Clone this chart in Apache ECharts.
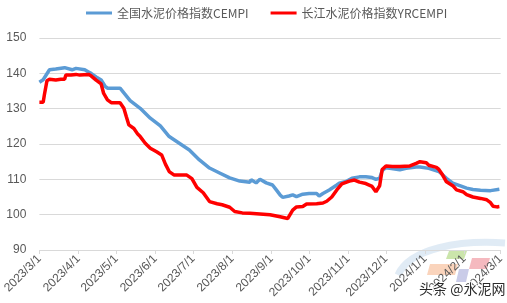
<!DOCTYPE html>
<html>
<head>
<meta charset="utf-8">
<script src="https://cdn.jsdelivr.net/npm/echarts@6/dist/echarts.min.js"></script>
<style>
html,body{margin:0;padding:0;background:#fff;}
#chart{width:507px;height:303px;}
</style>
</head>
<body>
<div id="chart"></div>
<script>
// ---- data ----
const seriesNames = ['全国水泥价格指数CEMPI', '长江水泥价格指数YRCEMPI'];
const tickMonths = ['2023-03-01','2023-04-01','2023-05-01','2023-06-01','2023-07-01','2023-08-01','2023-09-01','2023-10-01','2023-11-01','2023-12-01','2024-01-01','2024-02-01','2024-03-01'];
const yTicks = [90, 100, 110, 120, 130, 140, 150];

const cempiDates = ['2023-03-01','2023-03-04','2023-03-09','2023-03-14','2023-03-21','2023-03-27','2023-03-30','2023-04-06','2023-04-09','2023-04-11','2023-04-15','2023-04-19','2023-04-22','2023-04-24','2023-05-04','2023-05-05','2023-05-12','2023-05-20','2023-05-28','2023-06-05','2023-06-12','2023-06-20','2023-06-28','2023-07-06','2023-07-14','2023-07-22','2023-07-30','2023-08-07','2023-08-15','2023-08-16','2023-08-20','2023-08-23','2023-08-28','2023-09-02','2023-09-05','2023-09-08','2023-09-10','2023-09-15','2023-09-18','2023-09-21','2023-09-26','2023-10-01','2023-10-07','2023-10-09','2023-10-12','2023-10-17','2023-10-23','2023-10-25','2023-10-31','2023-11-04','2023-11-10','2023-11-15','2023-11-20','2023-11-23','2023-11-26','2023-11-28','2023-12-01','2023-12-04','2023-12-12','2023-12-17','2023-12-25','2023-12-28','2024-01-04','2024-01-12','2024-01-18','2024-01-23','2024-01-28','2024-02-03','2024-02-08','2024-02-14','2024-02-22','2024-02-29'];
const cempiValues = [137.5,138.2,141.0,141.2,141.6,141.0,141.4,141.0,140.4,140.0,139.0,138.1,136.4,135.8,135.8,135.6,132.3,130.1,127.3,125.1,122.1,120.2,118.3,115.5,113.2,111.8,110.4,109.5,109.2,109.9,109.0,110.0,109.0,108.4,107.0,105.6,104.9,105.3,105.6,105.1,105.8,106.0,106.0,105.3,106.0,107.0,108.4,108.9,109.5,110.3,110.7,110.7,110.5,110.0,110.3,112.5,113.3,113.1,112.7,113.1,113.5,113.5,113.1,112.2,110.3,108.9,108.3,107.5,107.1,106.9,106.8,107.2];

const yrcDates = ['2023-03-01','2023-03-04','2023-03-05','2023-03-07','2023-03-09','2023-03-14','2023-03-18','2023-03-21','2023-03-22','2023-03-26','2023-03-30','2023-04-02','2023-04-09','2023-04-11','2023-04-15','2023-04-19','2023-04-21','2023-04-24','2023-04-27','2023-05-04','2023-05-07','2023-05-09','2023-05-11','2023-05-15','2023-05-18','2023-05-20','2023-05-24','2023-05-28','2023-06-02','2023-06-06','2023-06-09','2023-06-12','2023-06-16','2023-06-26','2023-06-30','2023-07-04','2023-07-09','2023-07-14','2023-07-20','2023-07-24','2023-07-30','2023-08-03','2023-08-09','2023-08-15','2023-08-23','2023-08-31','2023-09-08','2023-09-14','2023-09-18','2023-09-21','2023-09-26','2023-09-29','2023-10-07','2023-10-12','2023-10-15','2023-10-19','2023-10-23','2023-10-27','2023-11-02','2023-11-06','2023-11-10','2023-11-15','2023-11-20','2023-11-23','2023-11-26','2023-11-28','2023-12-01','2023-12-06','2023-12-12','2023-12-20','2023-12-25','2023-12-28','2024-01-02','2024-01-04','2024-01-10','2024-01-12','2024-01-15','2024-01-18','2024-01-23','2024-01-26','2024-01-31','2024-02-03','2024-02-08','2024-02-14','2024-02-19','2024-02-22','2024-02-24','2024-02-27','2024-02-29'];
const yrcValues = [131.8,131.8,134.0,137.9,138.3,138.1,138.3,138.3,139.5,139.5,139.7,139.5,139.7,139.3,138.1,137.0,134.3,132.5,131.7,131.7,130.1,127.7,125.4,124.4,122.8,122.1,120.2,118.8,117.8,116.9,114.3,112.2,111.2,111.2,110.2,107.7,106.2,103.7,103.1,102.8,102.1,100.9,100.5,100.4,100.2,100.0,99.4,98.9,101.3,102.2,102.3,103.0,103.1,103.3,103.8,105.0,107.0,108.7,109.5,109.8,109.2,108.8,108.0,106.5,108.2,112.8,113.8,113.6,113.6,113.8,114.5,115.0,114.7,114.0,113.4,112.8,111.2,109.3,108.2,107.0,106.5,105.7,105.0,104.6,104.2,103.4,102.4,102.2,102.3];

// ---- build ----
function toTs(s){ const p = s.split('-').map(Number); return Date.UTC(p[0], p[1]-1, p[2]); }
const tickTs = tickMonths.map(toTs);
const cempiData = cempiDates.map((d,i)=>[toTs(d), cempiValues[i]]);
const yrcData = yrcDates.map((d,i)=>[toTs(d), yrcValues[i]]);

const labelColor = '#595959';
const gridColor = '#d9d9d9';
const numFont = '"Liberation Sans", Arial, sans-serif';
const cjkFont = '"Noto Sans CJK SC", "Noto Sans", sans-serif';

const chart = echarts.init(document.getElementById('chart'), null, {renderer:'canvas'});
chart.setOption({
  animation: false,
  backgroundColor: '#fff',
  legend: {
    left: 81, top: 2,
    itemWidth: 26, itemHeight: 3, itemGap: 22,
    icon: 'rect',
    textStyle: { color: labelColor, fontSize: 12, fontFamily: cjkFont },
    data: seriesNames
  },
  grid: { left: 39, right: 6, top: 38, bottom: 53 },
  xAxis: {
    type: 'value',
    min: tickTs[0], max: tickTs[tickTs.length-1],
    axisLine: { show: true, onZero: false, lineStyle: { color: gridColor, width: 1 } },
    axisTick: { show: true, customValues: tickTs, length: 4, lineStyle: { color: gridColor } },
    splitLine: { show: false },
    axisLabel: {
      customValues: tickTs,
      rotate: 45, margin: 7,
      color: labelColor, fontSize: 12, fontFamily: numFont,
      hideOverlap: false,
      formatter: function(v){ const d = new Date(v); return d.getUTCFullYear() + '/' + (d.getUTCMonth()+1) + '/' + d.getUTCDate(); }
    }
  },
  yAxis: {
    type: 'value',
    min: yTicks[0], max: yTicks[yTicks.length-1], interval: 10,
    axisLine: { show: false }, axisTick: { show: false },
    splitLine: { lineStyle: { color: gridColor, width: 1 } },
    axisLabel: { color: labelColor, fontSize: 12, fontFamily: numFont, margin: 13 }
  },
  series: [
    { name: seriesNames[0], type: 'line', data: cempiData, showSymbol: false, symbol: 'none',
      itemStyle: { color: '#5b9bd5' }, lineStyle: { color: '#5b9bd5', width: 3.5 }, z: 2 },
    { name: seriesNames[1], type: 'line', data: yrcData, showSymbol: false, symbol: 'none',
      itemStyle: { color: '#ff0000' }, lineStyle: { color: '#ff0000', width: 3.5 }, z: 3 }
  ],
  graphic: [
    { type: 'bezierCurve', z: -10, silent: true,
      shape: { x1: 398, y1: 275, x2: 505, y2: 243, cpx1: 410, cpy1: 248, cpx2: 460, cpy2: 240 },
      style: { stroke: '#d3e2f1', lineWidth: 7, fill: null, opacity: 0.7 } },
    { type: 'polygon', z: -10, silent: true,
      shape: { points: [[449,251],[467,251],[464,259],[446,259]] }, style: { fill: '#b9dc8f', opacity: 0.75 } },
    { type: 'polygon', z: -10, silent: true,
      shape: { points: [[430,264],[458,264],[455,275],[427,275]] }, style: { fill: '#f8c6a6', opacity: 0.75 } },
    { type: 'polygon', z: -10, silent: true,
      shape: { points: [[472,258],[490,258],[487,269],[469,269]] }, style: { fill: '#f2a2aa', opacity: 0.75 } },
    { type: 'polygon', z: -10, silent: true,
      shape: { points: [[459,269],[469,269],[466,282],[456,282]] }, style: { fill: '#aeb0dc', opacity: 0.65 } },
    { type: 'text', z: 100, left: 418, top: 281,
      style: { text: '头条 @水泥网', fill: '#2b2b2b', stroke: '#ffffff', lineWidth: 2, fontSize: 14, fontFamily: cjkFont } }
  ]
});
</script>
</body>
</html>
